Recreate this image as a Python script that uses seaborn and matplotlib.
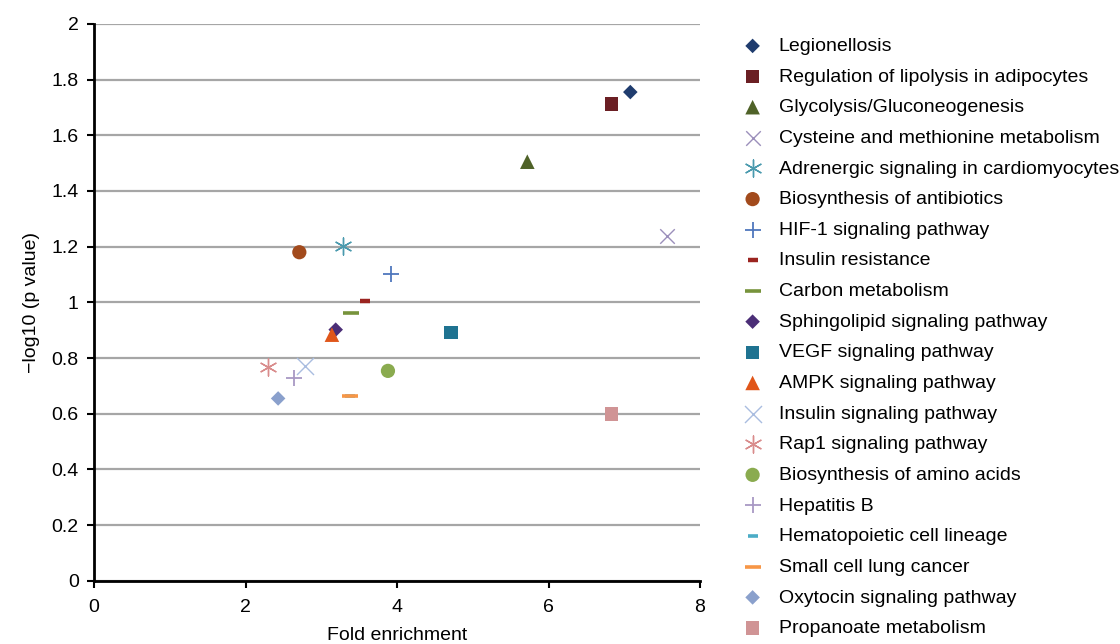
import matplotlib
matplotlib.use("Agg")
import matplotlib.pyplot as plt
import seaborn as sns

# Pathway data
pathways = [
    "Legionellosis", "Regulation of lipolysis in adipocytes", "Glycolysis/Gluconeogenesis",
    "Cysteine and methionine metabolism", "Adrenergic signaling in cardiomyocytes",
    "Biosynthesis of antibiotics", "HIF-1 signaling pathway", "Insulin resistance",
    "Carbon metabolism", "Sphingolipid signaling pathway", "VEGF signaling pathway",
    "AMPK signaling pathway", "Insulin signaling pathway", "Rap1 signaling pathway",
    "Biosynthesis of amino acids", "Hepatitis B", "Hematopoietic cell lineage",
    "Small cell lung cancer", "Oxytocin signaling pathway", "Propanoate metabolism",
]
fold_enrichment = [7.08, 6.83, 5.72, 7.56, 3.28, 2.71, 3.92, 3.58, 3.39, 3.19,
                   4.71, 3.14, 2.79, 2.29, 3.88, 2.64, 3.38, 3.38, 2.43, 6.83]
neg_log_p = [1.755, 1.712, 1.505, 1.238, 1.204, 1.180, 1.101, 1.006, 0.962, 0.902,
             0.891, 0.884, 0.773, 0.769, 0.754, 0.728, 0.665, 0.665, 0.655, 0.600]

colors = ["#1f3c6e", "#6b1f24", "#4f6228", "#9b8fbb", "#4a9aae", "#a24a1c", "#4f77bd",
          "#9b2420", "#77933c", "#4b2e77", "#1f7391", "#e0561a", "#a9bde0", "#d98c8c",
          "#8aab4f", "#a898c4", "#4bacc6", "#f79646", "#8aa0cc", "#d09495"]
markers = ["D", "s", "^", "x", (6, 2, 0), "o", "+", "_", "_", "D",
           "s", "^", "x", (6, 2, 0), "o", "+", "_", "_", "D", "s"]
sizes = [55, 95, 110, 110, 150, 105, 130, 60, 130, 55,
         95, 110, 150, 150, 105, 130, 50, 130, 55, 95]
widths = [0, 0, 0, 1.0, 1.0, 0, 1.3, 3.2, 2.6, 0,
          0, 0, 1.0, 1.0, 0, 1.3, 2.6, 2.6, 0, 0]

plt.rcParams["font.family"] = ["Liberation Sans", "DejaVu Sans"]

fig = plt.figure(figsize=(11.2, 6.44), dpi=100)
ax = fig.add_axes([0.084, 0.098, 0.541, 0.865])

for name, x, y, c, m, s, w in zip(pathways, fold_enrichment, neg_log_p, colors, markers, sizes, widths):
    sns.scatterplot(x=[x], y=[y], ax=ax, marker=m, color=c, s=s, linewidth=w,
                    edgecolor=c if w else "none", label=name, zorder=3)

ax.set_xlim(0, 8)
ax.set_ylim(0, 2)
ax.set_xticks([0, 2, 4, 6, 8])
ax.set_yticks([0, 0.2, 0.4, 0.6, 0.8, 1, 1.2, 1.4, 1.6, 1.8, 2])
ax.set_yticklabels(["0", "0.2", "0.4", "0.6", "0.8", "1", "1.2", "1.4", "1.6", "1.8", "2"])
ax.yaxis.grid(True, color="#a6a6a6", linewidth=1.6)
ax.set_axisbelow(True)
for side in ["top", "right"]:
    ax.spines[side].set_visible(False)
for side in ["left", "bottom"]:
    ax.spines[side].set_linewidth(2)
    ax.spines[side].set_color("black")
ax.tick_params(axis="both", direction="out", length=5, width=1.5, labelsize=14, colors="black")
ax.tick_params(axis="y", pad=6)
ax.tick_params(axis="x", pad=8)
ax.set_xlabel("Fold enrichment", fontsize=14, labelpad=8)
ax.set_ylabel("\u2212log10 (p value)", fontsize=14, labelpad=8)

handles, labels = ax.get_legend_handles_labels()
ax.get_legend().remove()
fig.legend(handles, labels, loc="upper left", bbox_to_anchor=(0.652, 0.954), frameon=False,
           fontsize=14, labelspacing=0.67, handlelength=1.5, handletextpad=0.6, borderaxespad=0)

fig.savefig("out.png", dpi=100)
